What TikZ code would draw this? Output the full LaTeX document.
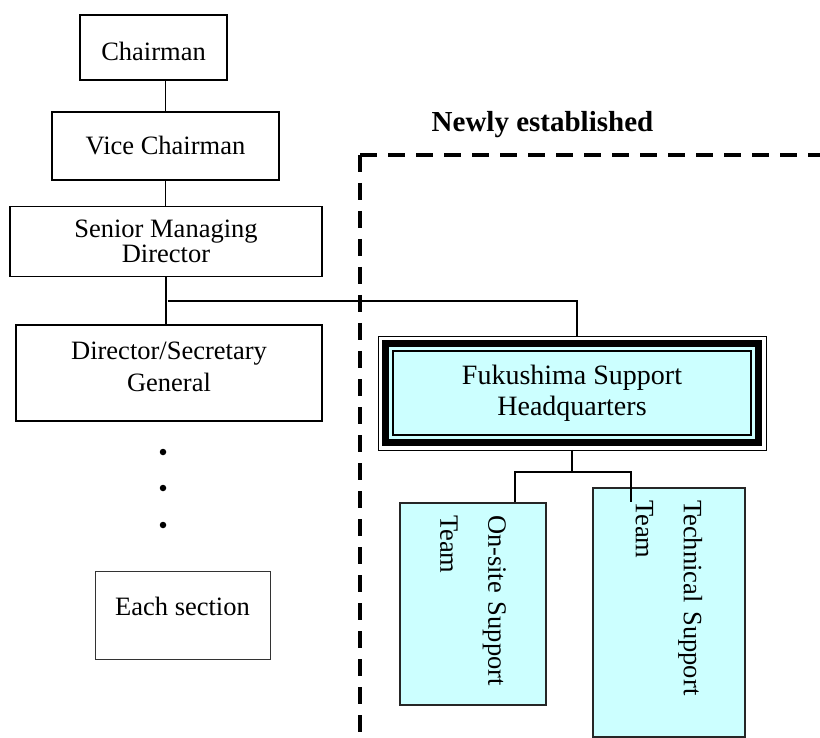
\documentclass[tikz,border=0pt]{standalone}
\usepackage{fontspec}
\setmainfont{Liberation Serif}
\usepackage{tikz}
\usetikzlibrary{positioning}
\usetikzlibrary{backgrounds}
\usetikzlibrary{calc}
\definecolor{teamcyan}{HTML}{CCFFFF}

\begin{document}
\begin{tikzpicture}[x=1pt,y=-1pt,line width=1.7pt,
  box/.style={rectangle,draw,inner sep=2pt,align=center,font=\fontsize{26.5}{32}\selectfont},
  team node/.style={rectangle,draw=black!85,fill=teamcyan,rotate=-90,inner xsep=12pt,inner ysep=0pt,align=left,font=\fontsize{26.5}{48}\selectfont},
  dot/.style={circle,fill,inner sep=0pt,minimum size=6.5pt},
  frame line/.style={line width=4pt,dash pattern=on 17pt off 11pt}]

  \useasboundingbox (0,0) rectangle (820,738);

  \node[box,minimum width=147pt,minimum height=65pt,text height=27pt] (chair) at (153.5,47.5) {Chairman};
  \node[box,minimum width=227pt,minimum height=68pt] (vice) [below=30pt of chair,xshift=12pt] {Vice Chairman};
  \node[box,minimum width=312pt,minimum height=70pt,font=\fontsize{26.5}{21.5}\selectfont] (senior) [below=25pt of vice,xshift=0.5pt] {Senior Managing\\Director};
  \node[box,minimum width=306pt,minimum height=96pt,text depth=12pt] (dir) [below=47pt of senior,xshift=3pt] {Director/Secretary\\General};
  \foreach \y/\n in {452/1,488/2,525/3}
    \node[dot] (dot\n) at (163,\y) {};
  \node[box,line width=1pt,draw=black!80,minimum width=175pt,minimum height=88pt,text depth=18pt] (section) at (182.5,615) {Each section};

  \node[font=\bfseries\fontsize{29}{34}\selectfont] (newly) at (542.5,125) {Newly established};
  \coordinate (frame) at (360,155);
  \coordinate (frame right) at (826,155);
  \coordinate (frame bottom) at (360,744);
  \draw[frame line] (frame) -- (frame right);
  \draw[frame line] (frame) -- (frame bottom);

  \node[align=center,minimum width=386pt,minimum height=112pt,inner sep=0pt,font=\fontsize{28}{31}\selectfont] (hq) at (572,393) {Fukushima Support\\Headquarters};
  \begin{scope}[on background layer]
    \draw[fill=white] (hq.north west) rectangle (hq.south east);
    \draw[line width=6.7pt,fill=teamcyan] ([shift={(7.5pt,-7.5pt)}]hq.north west) rectangle ([shift={(-7.5pt,7.5pt)}]hq.south east);
    \draw[line width=2.3pt] ([shift={(14.7pt,-14.7pt)}]hq.north west) rectangle ([shift={(-14.7pt,14.7pt)}]hq.south east);
  \end{scope}

  \node[team node,minimum width=202pt,minimum height=146pt,text width=178pt] (onsite) at (473,604) {On-site Support\\Team};
  \node[team node,minimum width=249pt,minimum height=152pt,text width=225pt] (tech) at (669,612.5) {Technical Support\\Team};

  \draw (chair.south -| vice.north) -- (vice.north);
  \draw (vice.south) -- (vice.south |- senior.north);
  \draw (senior.south) -- (senior.south |- dir.north);
  \draw ($(senior.south)!0.5!(dir.north)$) -| ([xshift=5pt]hq.north);
  \coordinate (fork) at ($(hq.south)+(0,22)$);
  \draw (hq.south) -- (fork);
  \draw ([xshift=42pt]onsite.west) |- (fork) -| ([xshift=-38pt,yshift=-15pt]tech.west);
\end{tikzpicture}
\end{document}
